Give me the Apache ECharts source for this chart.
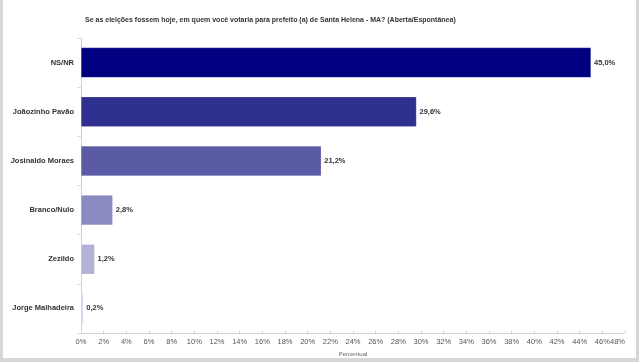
<!DOCTYPE html>
<html><head><meta charset="utf-8">
<script src="https://cdn.jsdelivr.net/npm/echarts@6/dist/echarts.min.js"></script>
<style>
html,body{margin:0;padding:0;background:#d6d6d6;width:639px;height:362px;overflow:hidden}
#panel{position:absolute;left:3px;top:0;width:633px;height:358px;background:#fff}
#c{position:absolute;left:0;top:0;width:639px;height:362px}
</style></head>
<body><div id="panel"></div><div id="c"></div>
<script>
const titleText = 'Se as eleições fossem hoje, em quem você votaria para prefeito (a) de Santa Helena - MA? (Aberta/Espontânea)';
const categories = ['NS/NR','Joãozinho Pavão','Josinaldo Moraes','Branco/Nulo','Zezildo','Jorge Malhadeira'];
const values = [45.0, 29.6, 21.2, 2.8, 1.2, 0.2];
const barColors = ['#000080','#2e2f8e','#5b5aa4','#8a89c0','#b3b2d6','#d6d5ea'];
const axisName = 'Percentual';
const FONT = "'Liberation Sans',Arial,sans-serif";

const chart = echarts.init(document.getElementById('c'), null, {renderer:'canvas'});
chart.setOption({
  backgroundColor:'transparent',
  animation:false,
  title:{text:titleText,left:80,top:12,textStyle:{fontFamily:FONT,fontSize:7,fontWeight:'bold',color:'#333'}},
  grid:{left:81,right:14,top:38,bottom:29,containLabel:false},
  xAxis:{type:'value',min:0,max:48,interval:2,
    name:axisName,nameLocation:'middle',nameGap:17,
    nameTextStyle:{fontFamily:FONT,fontSize:6,color:'#666'},
    axisLine:{show:true,lineStyle:{color:'#d0d0d0'}},
    axisTick:{show:true,inside:true,length:3,lineStyle:{color:'#ddd'}},
    splitLine:{show:false},
    axisLabel:{formatter:'{value}%',fontFamily:FONT,fontSize:7.5,color:'#555',margin:5,
      interval:0,showMaxLabel:true,showMinLabel:true,hideOverlap:false,alignMaxLabel:'right'}
  },
  yAxis:{type:'category',data:categories,inverse:true,
    axisLine:{show:true,lineStyle:{color:'#d0d0d0'}},
    axisTick:{show:true,length:4,lineStyle:{color:'#ddd'}},
    axisLabel:{fontFamily:FONT,fontSize:7.5,fontWeight:'bold',color:'#333',margin:7}
  },
  series:[{type:'bar',barWidth:30,
    data:values.map((v,i)=>({value:v,itemStyle:{color:barColors[i],borderColor:'rgba(255,255,255,0.35)',borderWidth:0.5}})),
    label:{show:true,position:'right',distance:3,fontFamily:FONT,fontSize:7.5,fontWeight:'bold',color:'#333',
      formatter:p=>p.value.toFixed(1).replace('.',',')+'%'}
  }]
});
</script></body></html>
